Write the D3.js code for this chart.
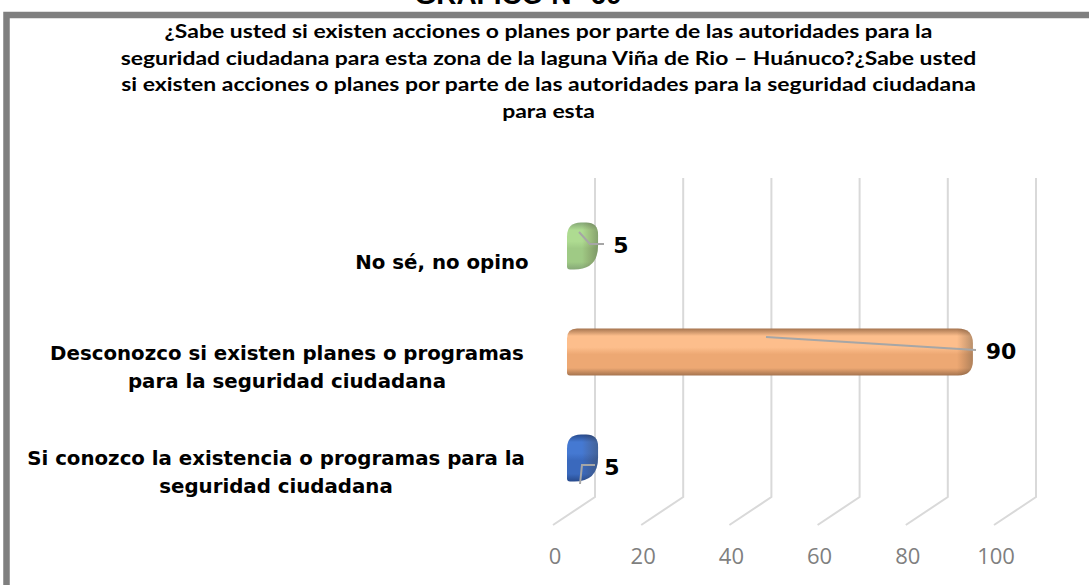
<!DOCTYPE html>
<html>
<head>
<meta charset="utf-8">
<script src="https://cdn.jsdelivr.net/npm/d3@7"></script>
<style>
  html, body { margin: 0; padding: 0; background: #fff; overflow: hidden; }
</style>
</head>
<body>
<div class="chart"></div>
<script>
var categories = ["Si conozco la existencia o programas para la|seguridad ciudadana",
  "Desconozco si existen planes o programas|para la seguridad ciudadana",
  "No sé, no opino"];
var values = [5, 90, 5];
var tickLabels = [0, 20, 40, 60, 80, 100];
var titleLines = ["¿Sabe usted si existen acciones o planes por parte de las autoridades para la",
  "seguridad ciudadana para esta zona de la laguna Viña de Rio – Huánuco?¿Sabe usted",
  "si existen acciones o planes por parte de las autoridades para la seguridad ciudadana",
  "para esta"];
var colors = ["#3a69bd", "#eda873", "#9fca85"];
var darks = ["#274a8c", "#a5744f", "#86a877"];
var lights = ["#4579d2", "#fdbe8c", "#aedb91"];

var width = 1089, height = 585;

var svg = d3.select(".chart")
  .append("svg")
  .attr("width", width)
  .attr("height", height)
  .style("display", "block");

var defs = svg.append("defs");
colors.forEach(function (c, i) {
  var g = defs.append("linearGradient").attr("id", "bar" + i)
    .attr("x1", 0).attr("y1", 0).attr("x2", 0).attr("y2", 1);
  g.append("stop").attr("offset", "0%").attr("stop-color", darks[i]);
  g.append("stop").attr("offset", "16%").attr("stop-color", lights[i]);
  g.append("stop").attr("offset", "40%").attr("stop-color", lights[i]);
  g.append("stop").attr("offset", "55%").attr("stop-color", c);
  g.append("stop").attr("offset", "84%").attr("stop-color", c);
  g.append("stop").attr("offset", "100%").attr("stop-color", darks[i]);
});

// clipped figure heading and frame
svg.append("text")
  .attr("x", 518).attr("y", 4)
  .attr("text-anchor", "middle")
  .style("font", "bold 28px 'Liberation Sans'")
  .text("GRÁFICO N° 60");

svg.append("rect")
  .attr("x", 6.5).attr("y", 15)
  .attr("width", 1100).attr("height", 600)
  .attr("fill", "#fff")
  .attr("stroke", "#7f7f7f")
  .attr("stroke-width", 6.5);

// title is stretched sideways in the original
svg.append("g")
  .attr("transform", "translate(548.5,0) scale(1.207,1)")
  .selectAll("text")
  .data(titleLines)
  .enter().append("text")
  .attr("x", 0)
  .attr("y", (d, i) => 38 + i * 26.7)
  .attr("text-anchor", "middle")
  .style("font", "bold 19px Lato")
  .text(d => d);

// back wall scale and the front one the bars sit on
var xBack = d3.scaleLinear().domain([0, 100]).range([595, 1036]);
var xFront = d3.scaleLinear().domain([0, 100]).range([567, 1008]);
var yBand = d3.scaleBand().domain(categories).range([511, 193]);

var grid = svg.append("g").attr("fill", "none").attr("stroke", "#d9d9d9").attr("stroke-width", 2);
tickLabels.forEach(function (t) {
  var x = xBack(t);
  grid.append("path").attr("d", d3.line()([[x, 178], [x, 497], [x - 42, 525]]));
});

svg.append("g").selectAll("text")
  .data(tickLabels)
  .enter().append("text")
  .attr("x", d => xBack(d) - 40)
  .attr("y", 564)
  .attr("text-anchor", "middle")
  .attr("fill", "#7f7f7f")
  .style("font", "22px 'Open Sans'")
  .text(d => d);

var capW = 9, barH = 47;
var bars = svg.append("g");
values.forEach(function (v, i) {
  var x0 = xFront(0), x1 = xFront(v) + capW;
  var y = yBand(categories[i]) + yBand.bandwidth() / 2 - barH / 2;
  var w = x1 - x0;
  var small = w < 50;
  var rt = small ? 12 : 15, rb = small ? 24 : 15, rl = small ? 14 : 10;
  var p = d3.path();
  p.moveTo(x0 + rl, y);
  p.lineTo(x1 - rt, y);
  p.quadraticCurveTo(x1, y, x1, y + rt);
  p.lineTo(x1, y + barH - rb);
  p.quadraticCurveTo(x1, y + barH, x1 - rb, y + barH);
  p.lineTo(x0 + 3, y + barH);
  p.quadraticCurveTo(x0, y + barH, x0, y + barH - 3);
  p.lineTo(x0, y + rl);
  p.quadraticCurveTo(x0, y, x0 + rl, y);
  bars.append("path").attr("d", p.toString()).attr("fill", "url(#bar" + i + ")");

  // darker rounding at the bar end
  var shade = defs.append("linearGradient").attr("id", "end" + i)
    .attr("gradientUnits", "userSpaceOnUse")
    .attr("x1", x1 - 16).attr("y1", 0).attr("x2", x1).attr("y2", 0);
  shade.append("stop").attr("offset", "0%").attr("stop-color", "#5a3a20").attr("stop-opacity", 0);
  shade.append("stop").attr("offset", "100%").attr("stop-color", "#3a3a30").attr("stop-opacity", 0.35);
  bars.append("path").attr("d", p.toString()).attr("fill", "url(#end" + i + ")");
});

// category labels
var labelCenters = [276, 287, 442];
var labelBase = [465, 360, 269];
var labels = svg.append("g");
categories.forEach(function (c, i) {
  c.split("|").forEach(function (s, k) {
    labels.append("text")
      .attr("x", labelCenters[i])
      .attr("y", labelBase[i] + k * 28)
      .attr("text-anchor", "middle")
      .style("font", "bold 19.8px 'DejaVu Sans'")
      .text(s);
  });
});

// data labels with their leader lines
var leaders = [[[580, 484], [582, 465], [595, 465]],
  [[766, 337], [976, 350]],
  [[579, 232], [590, 244], [604, 244]]];
var labelX = [612, 1001, 621];
var labelY = [475, 359, 253];
values.forEach(function (v, i) {
  svg.append("path")
    .attr("d", d3.line()(leaders[i]))
    .attr("fill", "none").attr("stroke", "#a6a6a6").attr("stroke-width", 2);
  svg.append("text")
    .attr("x", labelX[i]).attr("y", labelY[i])
    .attr("text-anchor", "middle")
    .style("font", "bold 22px 'DejaVu Sans'")
    .text(v);
});
</script>
</body>
</html>
